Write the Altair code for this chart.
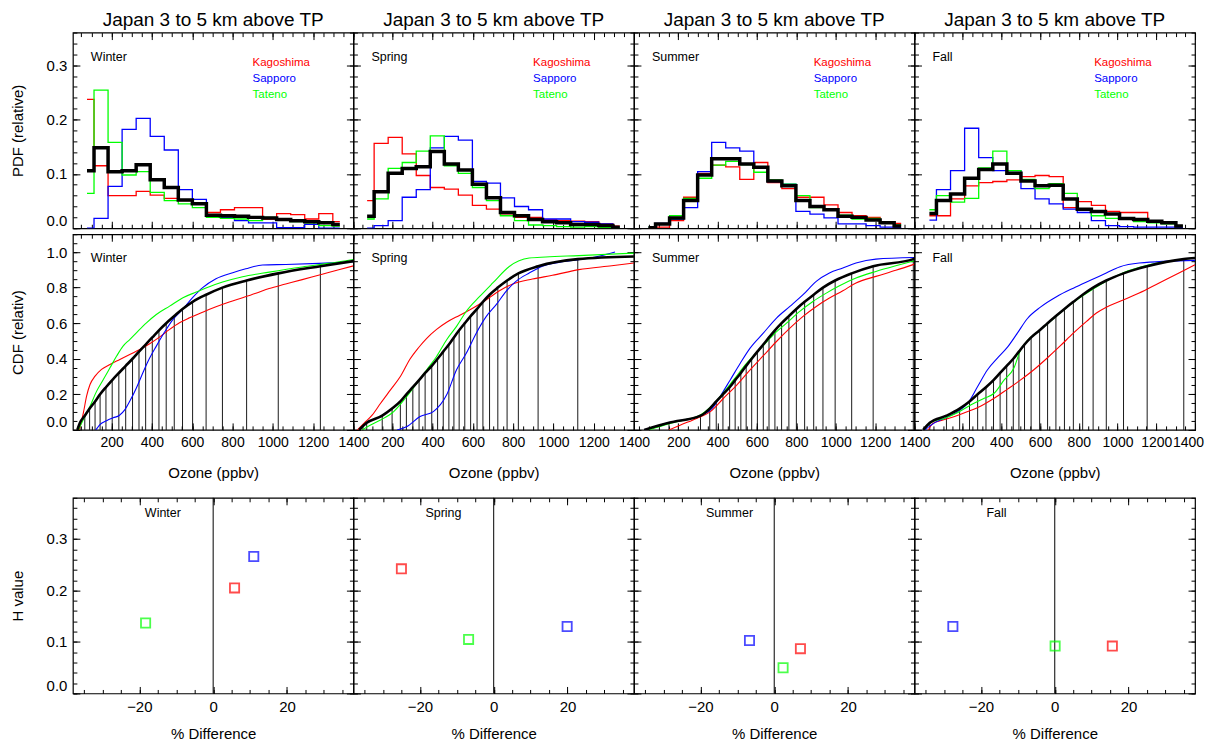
import altair as alt
import numpy as np
import pandas as pd

FONT = "Liberation Sans"
TITLE = "Japan 3 to 5 km above TP"
SEASONS = ["Winter", "Spring", "Summer", "Fall"]
STATIONS = ["Kagoshima", "Sapporo", "Tateno"]
STATION_COLORS = ["#ff0000", "#0000ff", "#00ff00"]

# ozone axis per season
X_START = [8, 7, -25, -48]
X_END = 1400
# histogram bins per season
BIN_FIRST = [78, 75, 49, 29]
BIN_WIDTH = [69.7, 69.7, 71.3, 72.7]
N_BINS = 19

# ---------------- PDF (relative) ----------------
PDF_WINTER_KAGOSHIMA = [0.237, 0.115, 0.060, 0.060, 0.068, 0.061, 0.055, 0.051, 0.046, 0.029, 0.034, 0.038, 0.038, 0.017, 0.027, 0.025, 0.017, 0.027, 0.012]
PDF_WINTER_SAPPORO = [0.000, 0.018, 0.077, 0.182, 0.202, 0.169, 0.144, 0.071, 0.053, 0.024, 0.020, 0.014, 0.010, 0.010, 0.001, 0.001, 0.007, 0.000, 0.000]
PDF_WINTER_TATENO = [0.064, 0.254, 0.158, 0.098, 0.104, 0.066, 0.051, 0.045, 0.038, 0.020, 0.018, 0.017, 0.014, 0.020, 0.016, 0.012, 0.010, 0.005, 0.004]
PDF_WINTER_ALL = [0.106, 0.148, 0.104, 0.106, 0.117, 0.089, 0.075, 0.052, 0.045, 0.024, 0.023, 0.022, 0.020, 0.019, 0.016, 0.014, 0.012, 0.010, 0.007]

PDF_SPRING_KAGOSHIMA = [0.051, 0.156, 0.167, 0.137, 0.097, 0.075, 0.072, 0.061, 0.042, 0.035, 0.024, 0.020, 0.020, 0.016, 0.014, 0.013, 0.012, 0.008, 0.004]
PDF_SPRING_SAPPORO = [0.000, 0.005, 0.014, 0.057, 0.071, 0.148, 0.169, 0.162, 0.086, 0.083, 0.056, 0.040, 0.034, 0.017, 0.017, 0.012, 0.011, 0.008, 0.002]
PDF_SPRING_TATENO = [0.017, 0.054, 0.110, 0.121, 0.142, 0.170, 0.115, 0.101, 0.075, 0.051, 0.023, 0.014, 0.006, 0.005, 0.003, 0.002, 0.003, 0.001, 0.001]
PDF_SPRING_ALL = [0.022, 0.067, 0.101, 0.110, 0.113, 0.141, 0.118, 0.107, 0.081, 0.056, 0.029, 0.023, 0.016, 0.012, 0.010, 0.007, 0.007, 0.005, 0.002]

PDF_SUMMER_KAGOSHIMA = [0.001, 0.002, 0.014, 0.057, 0.101, 0.116, 0.113, 0.090, 0.121, 0.084, 0.073, 0.057, 0.057, 0.043, 0.029, 0.023, 0.020, 0.012, 0.009]
PDF_SUMMER_SAPPORO = [0.002, 0.009, 0.017, 0.038, 0.104, 0.158, 0.148, 0.142, 0.110, 0.086, 0.081, 0.031, 0.026, 0.019, 0.008, 0.008, 0.005, 0.002, 0.001]
PDF_SUMMER_TATENO = [0.002, 0.007, 0.023, 0.055, 0.092, 0.116, 0.123, 0.117, 0.103, 0.089, 0.081, 0.060, 0.038, 0.034, 0.024, 0.017, 0.018, 0.010, 0.006]
PDF_SUMMER_ALL = [0.001, 0.008, 0.019, 0.051, 0.098, 0.128, 0.128, 0.118, 0.112, 0.087, 0.078, 0.051, 0.040, 0.034, 0.022, 0.020, 0.015, 0.010, 0.004]

PDF_FALL_KAGOSHIMA = [0.023, 0.023, 0.054, 0.078, 0.084, 0.086, 0.089, 0.095, 0.097, 0.095, 0.038, 0.049, 0.042, 0.031, 0.029, 0.029, 0.012, 0.012, 0.005]
PDF_FALL_SAPPORO = [0.015, 0.071, 0.106, 0.184, 0.130, 0.106, 0.106, 0.073, 0.054, 0.045, 0.035, 0.029, 0.014, 0.005, 0.003, 0.002, 0.002, 0.002, 0.001]
PDF_FALL_TATENO = [0.034, 0.060, 0.048, 0.055, 0.111, 0.142, 0.106, 0.090, 0.073, 0.082, 0.064, 0.034, 0.023, 0.018, 0.017, 0.012, 0.010, 0.008, 0.005]
PDF_FALL_ALL = [0.027, 0.051, 0.063, 0.092, 0.108, 0.118, 0.101, 0.087, 0.078, 0.079, 0.054, 0.035, 0.031, 0.026, 0.018, 0.016, 0.013, 0.010, 0.004]

# ---------------- CDF (relative) ----------------
CDF_WINTER_KAGOSHIMA_X = [40, 60, 76, 93, 118, 150, 192, 241, 290, 340, 389, 439, 488, 537, 587, 652, 718, 784, 850, 916, 982, 1064, 1146, 1245, 1327, 1400]
CDF_WINTER_KAGOSHIMA_Y = [0.002, 0.096, 0.19, 0.255, 0.302, 0.34, 0.368, 0.396, 0.424, 0.452, 0.484, 0.523, 0.565, 0.602, 0.63, 0.662, 0.692, 0.719, 0.743, 0.768, 0.795, 0.82, 0.845, 0.875, 0.9, 0.922]
CDF_WINTER_SAPPORO_X = [122, 142, 175, 208, 238, 266, 290, 323, 348, 381, 422, 463, 504, 554, 603, 652, 718, 801, 866, 949, 1064, 1229, 1400]
CDF_WINTER_SAPPORO_Y = [0.0, 0.03, 0.052, 0.068, 0.081, 0.114, 0.161, 0.236, 0.302, 0.386, 0.471, 0.55, 0.62, 0.68, 0.745, 0.80, 0.85, 0.884, 0.906, 0.927, 0.93, 0.936, 0.945]
CDF_WINTER_TATENO_X = [35, 60, 93, 126, 159, 192, 225, 257, 290, 323, 373, 422, 488, 554, 620, 685, 751, 850, 982, 1146, 1278, 1400]
CDF_WINTER_TATENO_Y = [0.0, 0.058, 0.133, 0.218, 0.283, 0.349, 0.415, 0.471, 0.508, 0.546, 0.602, 0.649, 0.696, 0.743, 0.775, 0.805, 0.831, 0.861, 0.887, 0.916, 0.936, 0.958]

CDF_SPRING_KAGOSHIMA_X = [27, 60, 101, 142, 191, 240, 289, 330, 371, 420, 470, 535, 601, 667, 732, 798, 896, 995, 1126, 1290, 1400]
CDF_SPRING_KAGOSHIMA_Y = [0.0, 0.038, 0.084, 0.15, 0.225, 0.30, 0.40, 0.462, 0.515, 0.565, 0.605, 0.645, 0.685, 0.732, 0.782, 0.82, 0.848, 0.869, 0.901, 0.923, 0.938]
CDF_SPRING_SAPPORO_X = [224, 273, 338, 404, 470, 519, 568, 617, 667, 716, 765, 814, 880, 945, 1027, 1126, 1224, 1306]
CDF_SPRING_SAPPORO_Y = [0.0, 0.019, 0.075, 0.103, 0.197, 0.338, 0.432, 0.544, 0.638, 0.704, 0.779, 0.835, 0.882, 0.92, 0.942, 0.957, 0.976, 1.0]
CDF_SPRING_TATENO_X = [51, 92, 142, 207, 265, 322, 371, 420, 470, 519, 568, 634, 699, 781, 880, 962, 1126, 1400]
CDF_SPRING_TATENO_Y = [0.0, 0.028, 0.056, 0.103, 0.178, 0.263, 0.338, 0.413, 0.507, 0.582, 0.667, 0.75, 0.826, 0.919, 0.966, 0.972, 0.98, 0.994]

CDF_SUMMER_KAGOSHIMA_X = [153, 212, 296, 363, 430, 498, 565, 632, 699, 767, 834, 901, 968, 1036, 1103, 1204, 1305, 1400]
CDF_SUMMER_KAGOSHIMA_Y = [0.0, 0.028, 0.066, 0.103, 0.178, 0.253, 0.338, 0.417, 0.497, 0.572, 0.638, 0.694, 0.741, 0.782, 0.826, 0.863, 0.897, 0.932]
CDF_SUMMER_SAPPORO_X = [27, 153, 313, 380, 413, 464, 515, 565, 632, 699, 767, 834, 901, 968, 1036, 1103, 1204, 1400]
CDF_SUMMER_SAPPORO_Y = [0.0, 0.041, 0.081, 0.131, 0.188, 0.281, 0.375, 0.46, 0.544, 0.629, 0.694, 0.76, 0.835, 0.882, 0.91, 0.938, 0.96, 0.969]
CDF_SUMMER_TATENO_X = [52, 145, 229, 313, 363, 413, 481, 548, 615, 683, 750, 817, 884, 952, 1019, 1103, 1204, 1305, 1400]
CDF_SUMMER_TATENO_Y = [0.0, 0.032, 0.056, 0.084, 0.128, 0.188, 0.281, 0.375, 0.454, 0.535, 0.6, 0.666, 0.722, 0.769, 0.81, 0.854, 0.891, 0.923, 0.951]

CDF_FALL_KAGOSHIMA_X = [23, 49, 91, 159, 227, 295, 363, 432, 500, 568, 636, 704, 772, 840, 891, 942, 1010, 1112, 1215, 1317, 1400]
CDF_FALL_KAGOSHIMA_Y = [0.0, 0.038, 0.053, 0.075, 0.103, 0.135, 0.178, 0.229, 0.281, 0.338, 0.403, 0.472, 0.544, 0.61, 0.657, 0.69, 0.722, 0.769, 0.826, 0.882, 0.929]
CDF_FALL_SAPPORO_X = [6, 57, 108, 176, 227, 278, 329, 380, 432, 483, 534, 602, 687, 772, 857, 942, 1010, 1112, 1400]
CDF_FALL_SAPPORO_Y = [0.0, 0.041, 0.066, 0.103, 0.15, 0.244, 0.338, 0.403, 0.465, 0.544, 0.625, 0.69, 0.75, 0.797, 0.84, 0.882, 0.916, 0.938, 0.953]
CDF_FALL_TATENO_X = [-3, 40, 108, 176, 244, 312, 363, 415, 466, 500, 534, 602, 687, 772, 874, 1027, 1153, 1400]
CDF_FALL_TATENO_Y = [0.0, 0.043, 0.066, 0.098, 0.141, 0.178, 0.206, 0.281, 0.35, 0.45, 0.50, 0.563, 0.642, 0.717, 0.792, 0.882, 0.925, 0.966]

# all-station CDF: start point, ozone at each 4% quantile, value at 1400 ppbv
CDF_STEP = 0.04
CDF_WINTER_ALL_START = 30
CDF_WINTER_ALL_QX = [43, 67, 91, 118, 143, 172, 203, 236, 270, 304, 336, 369, 402, 435, 471, 511, 552, 602, 669, 750, 870, 1027, 1236]
CDF_WINTER_ALL_END = 0.949
CDF_SPRING_ALL_START = 35
CDF_SPRING_ALL_QX = [73, 150, 199, 240, 270, 302, 333, 363, 396, 425, 453, 481, 506, 532, 560, 589, 621, 650, 683, 724, 770, 826, 924, 1121]
CDF_SPRING_ALL_END = 0.975
CDF_SUMMER_ALL_START = 27
CDF_SUMMER_ALL_QX = [153, 313, 360, 393, 427, 461, 489, 518, 545, 573, 602, 632, 661, 691, 725, 762, 800, 842, 888, 935, 997, 1081, 1190, 1394]
CDF_SUMMER_ALL_END = 0.966
CDF_FALL_ALL_START = -3
CDF_FALL_ALL_QX = [31, 117, 185, 236, 278, 321, 360, 394, 428, 462, 491, 520, 554, 598, 639, 682, 726, 772, 820, 874, 942, 1031, 1153, 1342]
CDF_FALL_ALL_END = 0.966

# ---------------- H value vs % difference ----------------
H_WINTER_DIFF = [5.8, 11.0, -18.3]
H_WINTER_H = [0.205, 0.266, 0.137]
H_SPRING_DIFF = [-25.0, 19.9, -6.8]
H_SPRING_H = [0.242, 0.130, 0.105]
H_SUMMER_DIFF = [7.1, -6.7, 2.4]
H_SUMMER_H = [0.087, 0.103, 0.050]
H_FALL_DIFF = [15.6, -27.6, 0.1]
H_FALL_H = [0.092, 0.130, 0.092]

PDF = [
    [PDF_WINTER_KAGOSHIMA, PDF_WINTER_SAPPORO, PDF_WINTER_TATENO, PDF_WINTER_ALL],
    [PDF_SPRING_KAGOSHIMA, PDF_SPRING_SAPPORO, PDF_SPRING_TATENO, PDF_SPRING_ALL],
    [PDF_SUMMER_KAGOSHIMA, PDF_SUMMER_SAPPORO, PDF_SUMMER_TATENO, PDF_SUMMER_ALL],
    [PDF_FALL_KAGOSHIMA, PDF_FALL_SAPPORO, PDF_FALL_TATENO, PDF_FALL_ALL],
]
CDF = [
    [(CDF_WINTER_KAGOSHIMA_X, CDF_WINTER_KAGOSHIMA_Y), (CDF_WINTER_SAPPORO_X, CDF_WINTER_SAPPORO_Y), (CDF_WINTER_TATENO_X, CDF_WINTER_TATENO_Y)],
    [(CDF_SPRING_KAGOSHIMA_X, CDF_SPRING_KAGOSHIMA_Y), (CDF_SPRING_SAPPORO_X, CDF_SPRING_SAPPORO_Y), (CDF_SPRING_TATENO_X, CDF_SPRING_TATENO_Y)],
    [(CDF_SUMMER_KAGOSHIMA_X, CDF_SUMMER_KAGOSHIMA_Y), (CDF_SUMMER_SAPPORO_X, CDF_SUMMER_SAPPORO_Y), (CDF_SUMMER_TATENO_X, CDF_SUMMER_TATENO_Y)],
    [(CDF_FALL_KAGOSHIMA_X, CDF_FALL_KAGOSHIMA_Y), (CDF_FALL_SAPPORO_X, CDF_FALL_SAPPORO_Y), (CDF_FALL_TATENO_X, CDF_FALL_TATENO_Y)],
]
CDF_ALL = [
    (CDF_WINTER_ALL_START, CDF_WINTER_ALL_QX, CDF_WINTER_ALL_END),
    (CDF_SPRING_ALL_START, CDF_SPRING_ALL_QX, CDF_SPRING_ALL_END),
    (CDF_SUMMER_ALL_START, CDF_SUMMER_ALL_QX, CDF_SUMMER_ALL_END),
    (CDF_FALL_ALL_START, CDF_FALL_ALL_QX, CDF_FALL_ALL_END),
]
HVAL = [(H_WINTER_DIFF, H_WINTER_H), (H_SPRING_DIFF, H_SPRING_H), (H_SUMMER_DIFF, H_SUMMER_H), (H_FALL_DIFF, H_FALL_H)]

# ---------------- layout / style ----------------
W, H = 281, 196
MAJ, MINR = 7, 4
PDF_YDOM, CDF_YDOM, H_YDOM, H_XDOM = [0, 0.36], [0, 1.1], [0, 0.38], [-38, 38]
YTITLE_PAD = 21


def ticks(lo, hi, step, start):
    v = np.round(np.arange(start, hi + step / 2, step), 4)
    return [float(t) for t in v if lo - 1e-9 <= t <= hi + 1e-9]


def scale(dom):
    return alt.Scale(domain=dom, nice=False, zero=False)


def make_axis(orient, values, size, labels, fmt, title, title_pad, flush, lsize=15):
    kw = dict(orient=orient, values=values, tickSize=size, offset=-size, domain=False, grid=False,
              tickColor="black", tickWidth=1, labels=labels)
    if labels:
        kw.update(format=fmt, labelFont=FONT, labelFontSize=lsize, labelColor="black", labelPadding=6,
                  labelFlush=flush, labelOverlap=False)
        if flush and orient == "bottom":
            kw.update(labelFlushOffset=8.5)
    if title:
        kw.update(title=title, titleFont=FONT, titleFontSize=15, titleFontWeight="normal",
                  titleColor="black", titlePadding=title_pad)
    else:
        kw["title"] = None
    return alt.Axis(**kw)


def frame(xdom, ydom, xmaj, xmin, ymaj, ymin, xlab, ylab, xfmt, yfmt, xtitle, ytitle, xpad, ypad,
          xflush, xlsize=15):
    df = pd.DataFrame({"fx": [xdom[0]], "fy": [ydom[0]]})
    out = []
    specs = [("bottom", "left", MAJ, True), ("bottom", "left", MINR, False),
             ("top", "right", MAJ, False), ("top", "right", MINR, False)]
    for xo, yo, size, main in specs:
        xv = xmaj if size == MAJ else xmin
        yv = ymaj if size == MAJ else ymin
        out.append(alt.Chart(df).mark_point(opacity=0).encode(
            x=alt.X("fx:Q", scale=scale(xdom),
                    axis=make_axis(xo, xv, size, main and xlab, xfmt, xtitle if main else None, xpad,
                                   xflush, xlsize)),
            y=alt.Y("fy:Q", scale=scale(ydom),
                    axis=make_axis(yo, yv, size, main and ylab, yfmt, ytitle if main else None, ypad, True)),
        ))
    return out


def label(text, x, y, color="black", size=12.5, align="left", baseline="middle"):
    return alt.Chart(pd.DataFrame({"t": [text]})).mark_text(
        align=align, baseline=baseline, font=FONT, fontSize=size, color=color
    ).encode(x=alt.value(x), y=alt.value(y), text="t:N")


station_color = alt.Color("station:N", scale=alt.Scale(domain=STATIONS, range=STATION_COLORS), legend=None)


def oz_ticks(i):
    xdom = [X_START[i], X_END]
    return xdom, ticks(xdom[0], xdom[1], 200, 200), ticks(xdom[0], xdom[1], 50, 0)


def pdf_panel(i):
    xdom, xmaj, xmin = oz_ticks(i)
    centers = [BIN_FIRST[i] + BIN_WIDTH[i] * k for k in range(N_BINS)]
    rows = []
    for s, vals in zip(STATIONS, PDF[i][:3]):
        rows += [{"x": c, "y": v, "station": s} for c, v in zip(centers, vals)]
    df = pd.DataFrame(rows)
    dfa = pd.DataFrame({"x": centers, "y": PDF[i][3]})
    lines = alt.Chart(df).mark_line(interpolate="step", strokeWidth=1.3, clip=True).encode(
        x=alt.X("x:Q", scale=scale(xdom), axis=None),
        y=alt.Y("y:Q", scale=scale(PDF_YDOM), axis=None),
        color=station_color)
    black = alt.Chart(dfa).mark_line(interpolate="step", strokeWidth=3.5, color="black", clip=True).encode(
        x=alt.X("x:Q", scale=scale(xdom), axis=None),
        y=alt.Y("y:Q", scale=scale(PDF_YDOM), axis=None))
    fr = frame(xdom, PDF_YDOM, xmaj, xmin, ticks(0, 0.36, 0.1, 0), ticks(0, 0.36, 0.02, 0),
               False, i == 0, "d", ".1f", None, "PDF (relative)" if i == 0 else None, 0, YTITLE_PAD, False)
    texts = [label(SEASONS[i], 18, 24), label(TITLE, W / 2, -6.3, size=19, align="center", baseline="alphabetic")]
    for k, (s, c) in enumerate(zip(STATIONS, STATION_COLORS)):
        texts.append(label(s, 180, 30.5 + 16 * k, c, 11.5))
    return alt.layer(*fr, lines, black, *texts).resolve_axis(x="independent", y="independent").properties(
        width=W, height=H)


def cdf_panel(i):
    xdom, xmaj, xmin = oz_ticks(i)
    rows = []
    for s, (xs, ys) in zip(STATIONS, CDF[i]):
        rows += [{"x": a, "y": b, "station": s} for a, b in zip(xs, ys)]
    df = pd.DataFrame(rows)
    start, qx, end = CDF_ALL[i]
    levels = [round(CDF_STEP * (k + 1), 3) for k in range(len(qx))]
    dfa = pd.DataFrame({"x": [start] + qx + [X_END], "y": [0.0] + levels + [end]})
    dfq = pd.DataFrame({"x": qx, "y": levels})
    drops = alt.Chart(dfq).mark_rule(color="black", strokeWidth=0.9, clip=True).encode(
        x=alt.X("x:Q", scale=scale(xdom), axis=None),
        y=alt.Y("y:Q", scale=scale(CDF_YDOM), axis=None),
        y2=alt.datum(0))
    lines = alt.Chart(df).mark_line(interpolate="monotone", strokeWidth=1.1, clip=True).encode(
        x=alt.X("x:Q", scale=scale(xdom), axis=None),
        y=alt.Y("y:Q", scale=scale(CDF_YDOM), axis=None),
        color=station_color)
    black = alt.Chart(dfa).mark_line(interpolate="monotone", strokeWidth=2.6, color="black", clip=True).encode(
        x=alt.X("x:Q", scale=scale(xdom), axis=None),
        y=alt.Y("y:Q", scale=scale(CDF_YDOM), axis=None))
    fr = frame(xdom, CDF_YDOM, xmaj, xmin, ticks(0, 1.1, 0.2, 0), ticks(0, 1.1, 0.05, 0),
               True, i == 0, "d", ".1f", "Ozone (ppbv)", "CDF (relativ)" if i == 0 else None, 16, YTITLE_PAD,
               i == 3, 14)
    return alt.layer(*fr, drops, lines, black, label(SEASONS[i], 18, 24)).resolve_axis(
        x="independent", y="independent").properties(width=W, height=H)


def h_panel(i):
    diff, hv = HVAL[i]
    df = pd.DataFrame({"x": diff, "y": hv, "station": STATIONS})
    zero = alt.Chart(pd.DataFrame({"x": [0]})).mark_rule(color="black", strokeWidth=1).encode(
        x=alt.X("x:Q", scale=scale(H_XDOM), axis=None))
    pts = alt.Chart(df).mark_point(shape="square", filled=False, size=85, strokeWidth=1.8).encode(
        x=alt.X("x:Q", scale=scale(H_XDOM), axis=None),
        y=alt.Y("y:Q", scale=scale(H_YDOM), axis=None),
        color=station_color)
    fr = frame(H_XDOM, H_YDOM, [-20, 0, 20], ticks(-38, 38, 5, -35), ticks(0, 0.38, 0.1, 0),
               ticks(0, 0.38, 0.02, 0), True, i == 0, "d", ".1f", "% Difference",
               "H value" if i == 0 else None, 12, YTITLE_PAD, False)
    return alt.layer(*fr, zero, pts, label(SEASONS[i], 72.1, 15)).resolve_axis(
        x="independent", y="independent").properties(width=W, height=H)


row1 = alt.hconcat(*[pdf_panel(i) for i in range(4)], spacing=0, bounds="flush")
row2 = alt.hconcat(*[cdf_panel(i) for i in range(4)], spacing=0, bounds="flush")
row3 = alt.hconcat(*[h_panel(i) for i in range(4)], spacing=0, bounds="flush")
upper = alt.vconcat(row1, row2, spacing=0)
chart = alt.vconcat(upper, row3, spacing=14).properties(
    padding={"left": 1, "top": 2, "right": 0, "bottom": 0}, background="white"
).configure_view(stroke="black", strokeWidth=1.2)

chart.save("out.html", embed_options={"renderer": "svg", "actions": False})
